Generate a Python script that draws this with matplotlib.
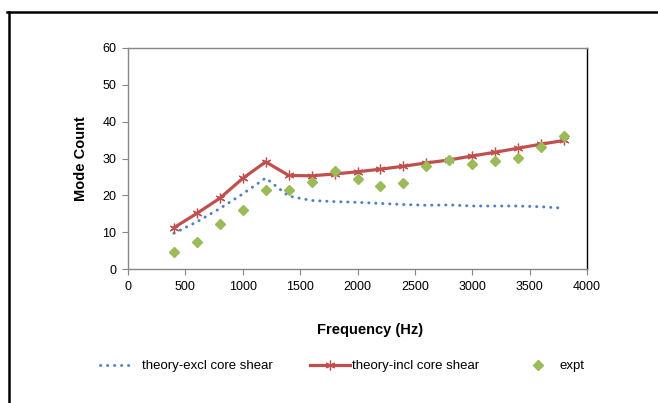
import matplotlib
matplotlib.use("Agg")
import matplotlib.pyplot as plt
from matplotlib.lines import Line2D

plt.rcParams['font.family'] = ['Liberation Sans', 'DejaVu Sans']

freq = [400, 600, 800, 1000, 1200, 1400, 1600, 1800, 2000, 2200,
        2400, 2600, 2800, 3000, 3200, 3400, 3600, 3800]
theory_excl = [9.7, 12.8, 16.4, 20.4, 24.7, 19.8, 18.6, 18.3, 18.1, 17.8,
               17.5, 17.3, 17.4, 17.1, 17.1, 17.1, 16.9, 16.5]
theory_incl = [11.2, 15.1, 19.2, 24.6, 29.1, 25.4, 25.3, 25.8, 26.4, 27.1,
               27.9, 28.8, 29.6, 30.7, 31.7, 32.8, 33.9, 34.9]
expt = [4.5, 7.2, 12.3, 16.1, 21.5, 21.5, 23.7, 26.6, 24.5, 22.4,
        23.4, 27.9, 29.7, 28.4, 29.3, 30.2, 33.2, 36.1]

x_ticks = [0, 500, 1000, 1500, 2000, 2500, 3000, 3500, 4000]
y_ticks = [0, 10, 20, 30, 40, 50, 60]
labels = ["theory-excl core shear", "theory-incl core shear", "expt"]

c_blue = "#4F81BD"
c_red = "#C0504D"
c_green = "#9BBB59"

W, H = 658, 403
fig = plt.figure(figsize=(W / 100, H / 100), dpi=100)
ax = fig.add_axes([128 / W, 1 - 269 / H, 459 / W, 221 / H])

l1, = ax.plot(freq, theory_excl, color=c_blue, lw=2.1,
              linestyle=(0, (0.1, 2.3)), dash_capstyle='round', zorder=3)
l2, = ax.plot(freq, theory_incl, color=c_red, lw=2.3, marker=(6, 2, 0),
              markersize=7, markeredgewidth=0.9, markeredgecolor=c_red,
              zorder=4)
l3, = ax.plot(freq, expt, linestyle='none', marker='D', markersize=5,
              color=c_green, markeredgecolor=c_green, zorder=5)

ax.set_xlim(0, 4000)
ax.set_ylim(0, 60)
ax.set_xticks(x_ticks)
ax.set_yticks(y_ticks)
ax.tick_params(axis='both', direction='out', length=4.5, width=0.8,
               color='#868686', labelsize=9, pad=4)
for s in ['left', 'bottom', 'top']:
    ax.spines[s].set_color('#868686')
    ax.spines[s].set_linewidth(1.0)
ax.spines['right'].set_color('#000000')
ax.spines['right'].set_linewidth(1.0)

ax.set_xlabel("Frequency (Hz)", fontsize=10.5, fontweight='bold')
ax.xaxis.set_label_coords((370 - 128) / 459, (269 - 323) / 221)
ax.set_ylabel("Mode Count", fontsize=10.5, fontweight='bold')
ax.yaxis.set_label_coords((88 - 128) / 459, 0.5)

# legend entries placed individually
leg_y = 1 - 366 / H
entries = [
    (l1, labels[0], 100, 2.65, 0.5),
    (l2, labels[1], 310, 3.0, 0.2),
    (l3, labels[2], 529, 1.3, 1.0),
]
for h, lab, xpx, hl, tp in entries:
    fig.legend([h], [lab], loc='center left',
               bbox_to_anchor=(xpx / W, leg_y), frameon=False,
               fontsize=9.5, handlelength=hl, handletextpad=tp,
               borderpad=0, borderaxespad=0)

# partial outer frame (top and left)
fig.add_artist(Line2D([7 / W, 1.0], [1 - 11.5 / H, 1 - 11.5 / H],
                      transform=fig.transFigure, color='black', lw=1.8))
fig.add_artist(Line2D([9 / W, 9 / W], [0, 1 - 11.5 / H],
                      transform=fig.transFigure, color='black', lw=1.8))

fig.savefig("out.png", dpi=100)
